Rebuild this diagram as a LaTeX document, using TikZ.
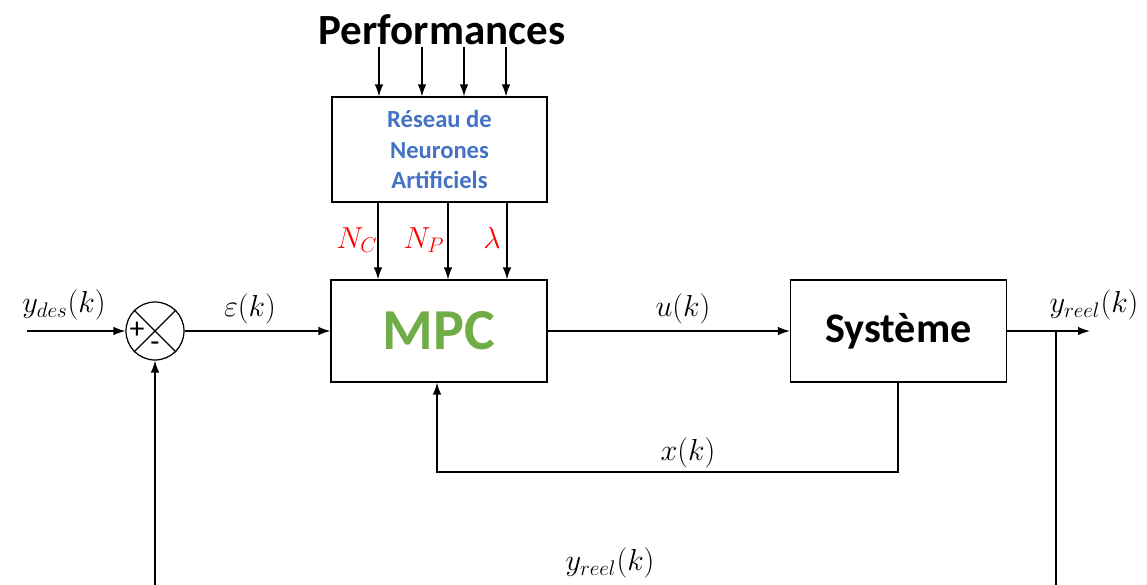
\documentclass[tikz,border=0pt]{standalone}
\usepackage{fontspec}
\setmainfont{Carlito}
\usetikzlibrary{arrows.meta, positioning, calc}
\definecolor{cblue}{HTML}{4472C4}
\definecolor{cgreen}{HTML}{70AD47}
\definecolor{cred}{HTML}{FF0000}
\tikzset{
  every picture/.style={line width=0.7pt},
  box/.style={draw, minimum width=4.32cm, minimum height=2.04cm, inner sep=0pt, align=center},
  arrow/.style={-{Latex[length=2.4mm, width=1.7mm]}},
  lbl/.style={font=\fontsize{17}{20}\selectfont, inner sep=1pt},
  param/.style={lbl, text=cred},
  sign/.style={font=\fontsize{17}{17}\selectfont, inner sep=0pt},
}
\begin{document}
\begin{tikzpicture}[x=0.02cm, y=-0.02cm]
  \useasboundingbox (0,0) rectangle (1147,585);
  % blocks
  \node[box] (mpc) at (439,331) {\fontsize{33}{36}\selectfont\bfseries\color{cgreen}MPC};
  \node[box] (sys) at (898.5,331) {\fontsize{24}{28}\selectfont\bfseries Système};
  \node[box, minimum width=4.3cm, minimum height=2.1cm, font=\fontsize{14}{17.6}\selectfont\bfseries, text=cblue] (rna) at (439.5,149.5) {Réseau de\\Neurones\\Artificiels};
  \node[font=\fontsize{24.5}{28}\selectfont\bfseries] (perf) at (442,30) {Performances};
  \node[draw, circle, minimum size=1.16cm, inner sep=0pt] (sum) at (155,331) {};
  \draw (sum.north west) -- (sum.south east) (sum.north east) -- (sum.south west);
  \node[sign] at ($(sum.center)+(-18,-1)$) {+};
  \node[sign] at ($(sum.center)+(0,16)$) {-};

  % performances -> reseau
  \foreach \x in {379,422,464,506}
    \draw[arrow] (\x,47) -- (\x,0 |- rna.north);
  % reseau -> mpc
  \foreach \x/\n in {378/nc,448/np,507/la} {
    \coordinate (\n) at (\x,0 |- rna.south);
    \draw[arrow] (\n) -- (\n |- mpc.north);
  }
  \node[param] at (357,240) {$N_C$};
  \node[param] at (424,240) {$N_P$};
  \node[param] at (492,238) {$\lambda$};

  % main chain
  \coordinate (in) at (27,331);
  \draw[arrow] (in) -- (sum.west);
  \node[lbl] at (64,305) {$y_{des}(k)$};
  \draw[arrow] (sum.east) -- (mpc.west);
  \node[lbl] at (250,309) {$\varepsilon(k)$};
  \draw[arrow] (mpc.east) -- (sys.west);
  \node[lbl] at (683,309) {$u(k)$};
  \coordinate (out) at (1090,331);
  \draw[arrow] (sys.east) -- (out);
  \node[lbl] at (1094,305) {$y_{reel}(k)$};

  % state feedback
  \coordinate (xs) at (898,0 |- sys.south);
  \coordinate (xm) at (437,0 |- mpc.south);
  \draw[arrow] (xs) -- (898,472) -- (437,472) -- (xm);
  \node[lbl] at (688,453) {$x(k)$};

  % output feedback
  \coordinate (br) at (1056,331);
  \coordinate (fbr) at (1056,585);
  \coordinate (fbl) at (155,585);
  \draw (br) -- (fbr);
  \draw[arrow] (fbl) -- (sum.south);
  \node[lbl] at (610,563) {$y_{reel}(k)$};
\end{tikzpicture}
\end{document}
